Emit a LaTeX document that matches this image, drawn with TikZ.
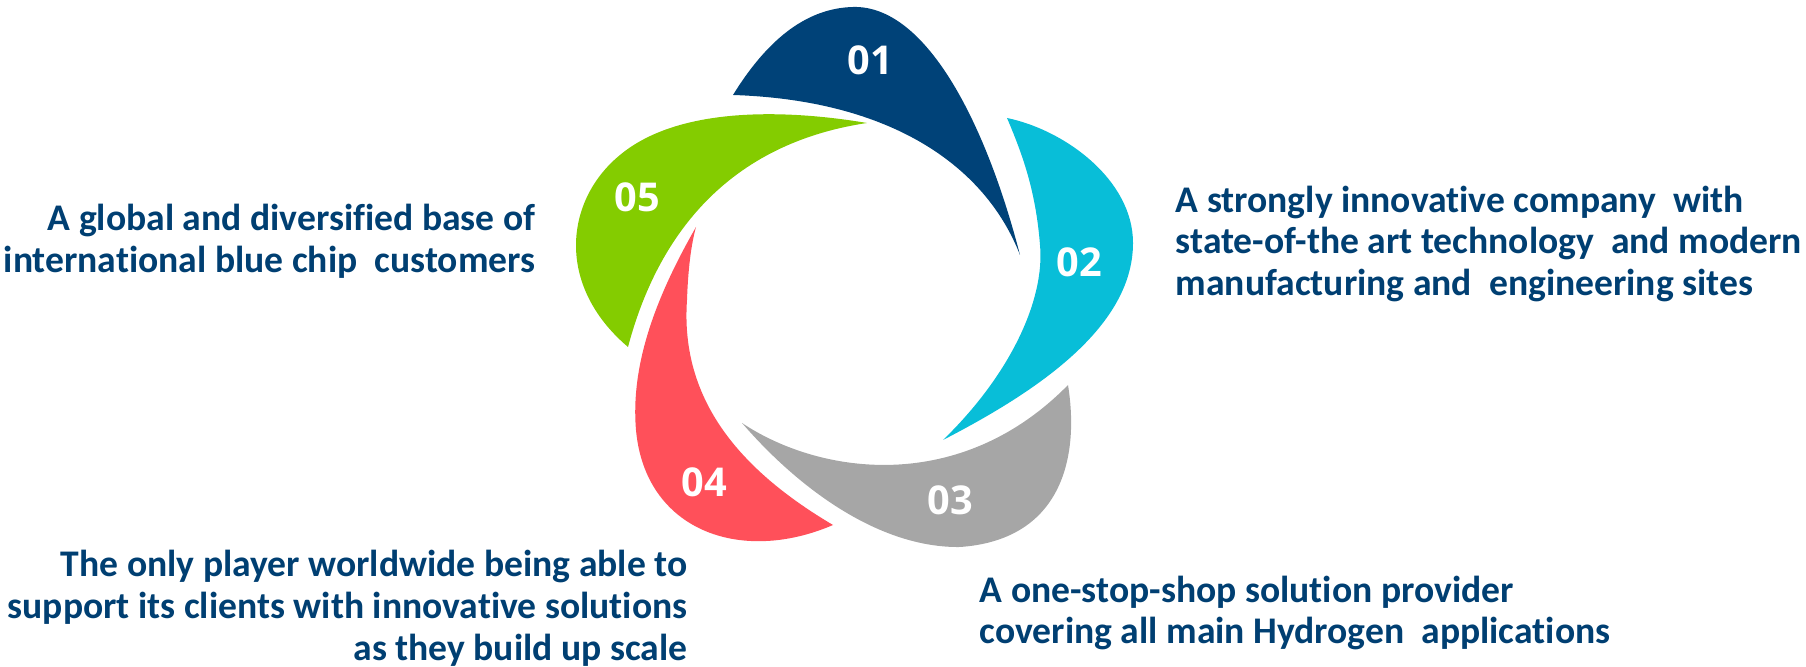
\documentclass[tikz,border=0pt]{standalone}
\usepackage{fontspec}
\setmainfont{Carlito}[Ligatures=NoCommon]
\newfontfamily\numfont{Open Sans}
\definecolor{petalA}{RGB}{0,66,120}
\definecolor{petalB}{RGB}{8,190,216}
\definecolor{petalC}{RGB}{166,166,166}
\definecolor{petalD}{RGB}{255,80,90}
\definecolor{petalE}{RGB}{132,204,0}
\definecolor{blurbblue}{RGB}{0,63,114}
\tikzset{
	petallabel/.style={font=\numfont\bfseries\fontsize{11.3}{12}\selectfont, text=white},
	blurb/.style={font=\bfseries\fontsize{10.7}{11.9}\selectfont, text=blurbblue, inner sep=0pt}
}

\begin{document}
\begin{tikzpicture}[x=0.1mm, y=-0.1mm]
		%%%%% START %%%%%
		\useasboundingbox (0,0) rectangle (1806,667);
		
		% petal 01
		\fill[petalA] (733,95) .. controls (770,35) and (810,8) .. (853,7) .. controls (925,5) and (985,120) .. (1020,255)
			.. controls (985,165) and (890,100) .. (733,95) -- cycle;
		
		% petal 02
		\fill[petalB] (1007,118) .. controls (1065,130) and (1133,180) .. (1133,243) .. controls (1133,330) and (1030,395) .. (943,440)
			.. controls (1010,375) and (1045,300) .. (1040,245) .. controls (1036,195) and (1025,160) .. (1007,118) -- cycle;
		
		% petal 03
		\fill[petalC] (1068,385) .. controls (1080,460) and (1060,540) .. (960,547) .. controls (880,548) and (800,490) .. (742,423)
			.. controls (820,475) and (960,495) .. (1068,385) -- cycle;
		
		% petal 04
		\fill[petalD] (696,227) .. controls (660,290) and (630,360) .. (636,430) .. controls (645,530) and (740,565) .. (833,525)
			.. controls (740,470) and (680,400) .. (687,300) .. controls (688,270) and (691,245) .. (696,227) -- cycle;
		
		% petal 05
		\fill[petalE] (867,123) .. controls (790,110) and (680,105) .. (620,155) .. controls (565,200) and (555,285) .. (628,347)
			.. controls (655,245) and (720,145) .. (867,123) -- cycle;
		
		\node[petallabel] (n01) at (870,60) {01};
		\node[petallabel] (n02) at (1079,262) {02};
		\node[petallabel] (n03) at (950,500) {03};
		\node[petallabel] (n04) at (704,482) {04};
		\node[petallabel] (n05) at (637,197) {05};
		
		\node[blurb, align=right, anchor=east] (txt05) at (536,241) {A global and diversified base of\\international blue chip\ \ customers};
		\node[blurb, align=left, anchor=west] (txt02) at (1175,244) {A strongly innovative company\ \ with\\state-of-the art technology\ \ and modern\\manufacturing and\ \ engineering sites};
		\node[blurb, align=left, anchor=west] (txt03) at (979,613) {A one-stop-shop solution provider\\covering all main Hydrogen\ \ applications};
		\node[blurb, align=right, anchor=east] (txt04) at (688,608) {The only player worldwide being able to\\support its clients with innovative solutions\\as they build up scale};
		
		%%%%% END %%%%%
\end{tikzpicture}
\end{document}
